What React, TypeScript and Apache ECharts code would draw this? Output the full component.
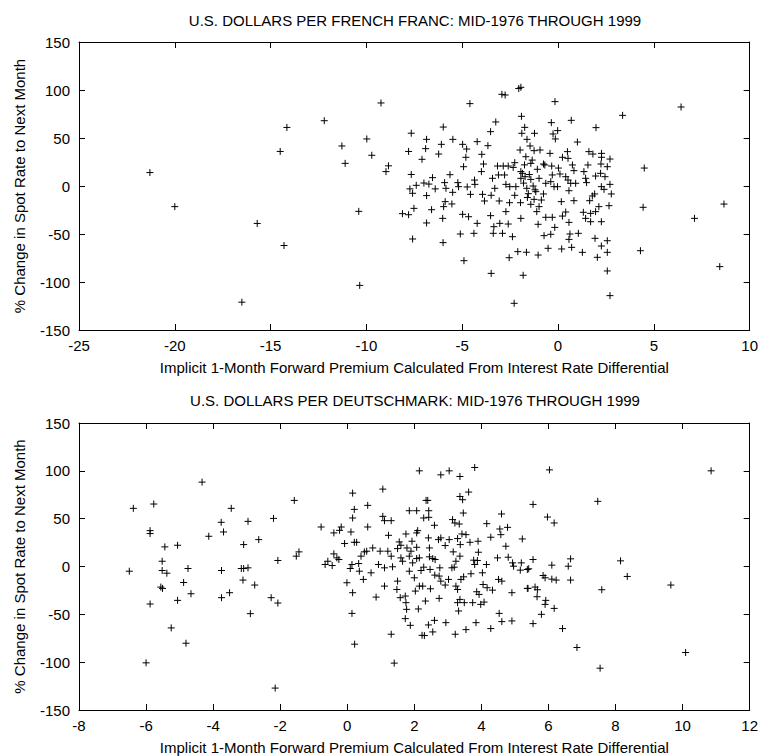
import React, { useEffect, useRef } from "react";
import * as echarts from "echarts";

const TITLE_FRANC = "U.S. DOLLARS PER FRENCH FRANC: MID-1976 THROUGH 1999";
const TITLE_MARK = "U.S. DOLLARS PER DEUTSCHMARK: MID-1976 THROUGH 1999";
const X_TITLE = "Implicit 1-Month Forward Premium Calculated From Interest Rate Differential";
const Y_TITLE = "% Change in Spot Rate to Next Month";

const Y_MIN = -150;
const Y_MAX = 150;
const Y_STEP = 50;
const FRANC_X_RANGE = [-25, 10, 5];
const MARK_X_RANGE = [-8, 12, 2];

// French franc: [forward premium, % change]
const francPoints: number[][] = [
  [-21.3, 14], [-20.0, -21.5], [-15.7, -39], [-14.3, -62], [-14.5, 36], [-14.15, 61], [-12.2, 68], [-16.5, -121],
  [-11.28, 41.7], [-11.11, 23.6], [-9.98, 49], [-9.72, 32], [-9.24, 86.5], [-8.98, 15], [-8.85, 21], [-10.4, -26.4],
  [-10.35, -103.5], [-7.8, 36], [-7.66, 55], [-7.66, 12], [-7.73, -3], [-7.59, -7.6], [-8.12, -28.8], [-7.8, -29.9],
  [-7.52, -23.3], [-7.59, -55.2], [-7.4, 0.7], [-7.1, 27.8], [-6.91, 38.9], [-6.86, 48.6], [-7.0, 3.1], [-6.86, -10],
  [-6.86, -38.5], [-6.74, 2], [-6.55, 8.7], [-6.41, -3], [-6.6, -24.7], [-6.23, 33.3], [-6.09, 43.4], [-5.99, 61.4],
  [-6.02, -33.7], [-6.0, -59], [-5.97, -21.5], [-5.89, -16.3], [-5.92, 3.5], [-5.85, -2.4], [-5.64, 11.8], [-5.5, -6.6],
  [-5.54, -18.7], [-5.49, 48.6], [-5.23, 3.5], [-5.19, -0.7], [-4.98, 43.4], [-4.77, 38.5], [-4.81, 29.9], [-4.93, 20.1],
  [-4.98, -29.5], [-4.67, -32], [-5.1, -50], [-4.91, -77.8], [-4.6, 85.8], [-4.74, -1], [-4.57, -8.7], [-4.36, 6.2],
  [-4.34, 1.7], [-4.22, 46.2], [-4.22, -38.9], [-4.39, -49.3], [-3.98, 33], [-4.0, 15], [-3.89, 22.9], [-3.94, -8.7],
  [-3.84, -15.6], [-3.66, 42], [-3.52, 56.6], [-3.42, 8], [-3.49, -9.7], [-3.52, -30.9], [-3.49, -91], [-3.35, -42.4],
  [-3.38, -49.3], [-3.25, 66.7], [-3.3, -2.4], [-3.16, 20.8], [-3.11, 11.5], [-3.07, -15.6], [-3.04, -38.9], [-2.93, 95.5],
  [-2.76, 94.8], [-2.9, -49.3], [-2.86, 20.8], [-2.79, 11.5], [-2.72, 1.7], [-2.72, -26.7], [-2.6, -39.6], [-2.6, 20.8],
  [-2.52, -0.7], [-2.53, -17.4], [-2.38, -52.8], [-2.29, -122.2], [-2.55, -74.7], [-2.34, 19.4], [-2.26, 24.3], [-2.2, -0.7],
  [-2.26, -9.7], [-2.1, -68.4], [-1.94, 102.8], [-2.05, 101.5], [-1.91, 72.6], [-1.89, 54.9], [-1.74, 61.1], [-1.98, 37.5],
  [-1.94, 15], [-1.94, 8], [-1.96, -17.4], [-1.94, -33.7], [-1.82, -93], [-1.65, -69], [-1.68, 30.5], [-1.86, 13.2],
  [-1.72, 9.7], [-1.62, 48.6], [-1.5, 12], [-1.3, 0], [-1.8, 3], [-1.55, -8], [-1.2, -4], [-1.75, 22], [-1.35, 27], [-1.6, -12],
  [-0.16, 87.9], [0.69, 68.4], [3.37, 73.6], [6.42, 82.3], [-0.35, 66], [1.98, 60.8], [-1.23, 54.9], [-0.02, 57.7],
  [-0.26, 54.2], [-0.14, 49], [1.01, 45.8], [-1.46, 41.7], [-1.25, 36.8], [-0.94, 37.5], [-0.42, 34], [0.49, 35.8],
  [0.23, 29.9], [0.52, 28.8], [1.61, 35.8], [1.82, 33.3], [2.27, 34], [2.27, 29.9], [2.71, 28.1], [-1.42, 23.6],
  [-0.69, 21.9], [-0.33, 20.8], [0.02, 18.7], [0.75, 21.9], [0.83, 16], [1.56, 21.9], [2.24, 22.9], [2.57, 20.1],
  [4.5, 18.7], [-1.08, 17.4], [-0.76, 22.9], [-0.3, 11.5], [0.1, 12.5], [0.4, 9.7], [0.92, 2.8], [1.35, 15],
  [1.44, 8], [1.96, 10.4], [2.22, 13.2], [2.45, 9.7], [-1.42, 6.9], [-0.99, 8], [-0.64, 2.8], [-0.38, 4.5],
  [-0.03, -0.7], [-0.21, -0.7], [0.52, 6.2], [0.66, 2.8], [1.49, 3.5], [2.26, -0.7], [2.71, 1.7], [-1.63, -2.4],
  [-1.16, -5.9], [-0.76, -8.3], [0.57, -4.9], [1.91, -8.3], [2.78, -8.3], [2.4, -3.5], [-1.25, -13.9], [-0.87, -14.6],
  [0.17, -16.3], [0.83, -15.3], [1.65, -15.3], [1.79, -10.4], [-1.42, -19.1], [-0.99, -21.5], [2.13, -21.5], [2.66, -20.5],
  [4.44, -22.2], [8.66, -18.8], [7.12, -33.7], [-1.11, -26.7], [0.4, -27.1], [1.32, -27.4], [1.7, -28.5], [1.96, -26.7],
  [-0.64, -32.6], [-0.3, -32.6], [0.23, -31.3], [1.44, -33.7], [0.57, -37.9], [1.7, -37.2], [2.26, -37.2], [-1.04, -39.9],
  [-0.17, -43.1], [-0.73, -51.7], [-0.38, -50.3], [0.62, -50], [1.06, -49.3], [0.57, -55.6], [1.93, -54.5], [2.57, -57],
  [2.26, -62.5], [-0.52, -64.9], [0.19, -65.6], [0.71, -63.9], [1.27, -69.1], [2.05, -74.3], [2.57, -69.1], [-1.04, -71.9],
  [4.3, -67.4], [2.57, -88.5], [2.71, -114.2], [8.44, -84],
];

// Deutschmark: [forward premium, % change]
const markPoints: number[][] = [
  [-6.5, -4.9], [-6.38, 60.8], [-5.77, 65.3], [-5.88, 37.5], [-5.88, 34.4], [-5.44, 20.5], [-5.52, 5.5], [-5.52, -4.2],
  [-5.38, -7], [-5.56, -21.5], [-5.51, -22.9], [-5.88, -39.2], [-5.06, 22.2], [-5.06, -35.4], [-5.25, -64.2], [-6.0, -100.7],
  [-4.88, -16.7], [-4.75, -2.1], [-4.66, -28.5], [-4.81, -80.2], [-4.33, 88.2], [-4.13, 31.6], [-3.76, 46.2], [-3.69, 36.1],
  [-3.75, -4.2], [-3.75, -32.6], [-3.51, -27.4], [-3.46, 60.8], [-3.09, 22.9], [-2.96, 47.2], [-2.64, 28.1], [-3.16, -2.1],
  [-3.09, -2.1], [-2.96, -1.4], [-3.11, -14.2], [-2.76, -19.4], [-2.89, -49.3], [-2.2, 50.3], [-2.07, 6.3], [-2.27, -32.6],
  [-2.07, -38.2], [-2.15, -127.1], [-1.58, 69.1], [-1.52, 10.8], [-1.44, 15.3], [-0.78, 41.3], [-0.66, 2.1], [-0.58, 5.5],
  [-0.45, 1], [-0.4, 35.1], [-0.4, 13.2],
  [2.15, 100], [2.79, 95.8], [3.04, 100], [3.36, 94.1], [3.8, 103.5], [0.16, 76.7], [1.06, 80.9], [0.61, 63.9],
  [0.21, 59.7], [0.16, 50.7], [1.06, 52.4], [1.11, 47.9], [1.31, 47.9], [0.61, 41.3], [-0.18, 41.3], [-0.23, 37.8],
  [0.11, 36.1], [-0.08, 24], [0.21, 25.3], [0.28, 25.3], [-0.31, 9], [-0.25, 7.3], [0.14, 2.1], [0.34, 3.1],
  [0.09, -2.1], [0.36, -4.9], [-0.01, -17], [0.16, -27.4], [0.14, -49], [0.22, -81.2], [0.48, -13.5], [0.41, 10.8],
  [0.51, 15.3], [0.58, 16], [0.76, 19.4], [0.71, -6.6], [0.93, 2.1], [0.98, 16], [0.86, -32], [1.11, -20.5],
  [1.11, -1.4], [1.23, 32.6], [1.21, 16], [1.31, 10.8], [1.35, -0.3], [1.31, -70.8], [1.4, -101], [1.5, 18.7],
  [1.55, 25.7], [1.6, 22.2], [1.6, 9], [1.65, 5.5], [1.75, 34], [1.78, 19.4], [1.5, -15.3], [1.48, -24],
  [1.58, -32.6], [1.75, -37.8], [1.73, -30.9], [1.77, -44.8], [1.73, -54.5], [1.88, -61.5], [1.85, -4.9], [1.85, 58.3],
  [1.85, 10.8], [1.93, 26.4], [1.9, 16], [1.95, 3.8], [2.0, -11.8], [2.03, -25.7], [2.07, 58.3], [2.07, 35.1],
  [2.07, 20.1], [2.07, 8.3], [2.1, 37.5], [2.12, -44.4], [2.15, -20.5], [2.15, 9], [2.2, -4.2], [2.23, -71.9],
  [2.3, -72.2], [2.25, -20.5], [2.28, 50.7], [2.28, -0.7], [2.33, -36.1], [2.35, 69.1], [2.4, 69.1], [2.43, 58.3],
  [2.43, 51.4], [2.42, 29.9], [2.45, 19.4], [2.45, 10.1], [2.47, -3.1], [2.42, -61.1], [2.48, -23.3], [2.55, 8.3],
  [2.55, -68.4], [2.6, 43.1], [2.6, -56.3], [2.61, -9], [2.62, 7.3], [2.72, 28.1], [2.74, -10], [2.76, -1.4],
  [2.74, -33.3], [2.79, -15.3], [2.79, 29.9], [2.92, 21.9], [2.92, -19.4], [2.94, -58.7], [3.04, 28.1], [3.02, -13.5],
  [3.12, -1.4], [3.16, 15.3], [3.19, -0.7], [3.14, 49], [3.21, 45.5], [3.22, -70.8], [3.24, -20.5], [3.24, 5.5],
  [3.29, 29.2], [3.29, -24], [3.34, 44.4], [3.36, 73.2], [3.36, -34.4], [3.32, -46.5], [3.29, -37.8], [3.37, 22.9],
  [3.36, 10.8], [3.39, -13.5], [3.44, 69.8], [3.46, 55.9], [3.42, 34], [3.47, -10.8], [3.49, -37.8], [3.54, 33.3],
  [3.54, -66], [3.62, 77.8], [3.66, 25.3], [3.69, -7.6], [3.74, -37.8], [3.77, 6.6], [3.8, 2.1], [3.84, -58.7],
  [3.86, -26.4], [3.88, 6.3], [3.9, 26.4], [3.91, 14.9], [3.93, -29.2], [3.98, -39.6], [4.03, -6.6], [4.05, -18.8],
  [4.08, -37.2], [4.15, 2.1], [4.16, 44.8], [4.17, -22.2], [4.28, -64.9], [4.28, 30.6], [4.33, -24.7], [4.48, 9],
  [4.51, -13.5], [4.53, -49], [4.55, 39.2], [4.58, 33.3], [4.6, 54.9], [4.61, -15.3], [4.61, -57.6], [4.73, 21.2],
  [4.78, 40.9], [4.8, 9.7], [4.91, -56.9], [4.91, -27.4], [4.93, 3.8], [4.96, 0.3], [5.16, -3.8], [5.19, 3.8],
  [5.22, 28.8], [5.37, -22.9], [5.37, -3.1],
  [6.03, 101], [10.85, 100], [5.54, 64.9], [7.47, 68.1], [5.97, 51.7], [6.17, 45.5], [5.54, 7.3], [6.66, 8],
  [5.41, -2.4], [6.1, 1.4], [6.59, 0.3], [8.15, 5.9], [5.84, -9.4], [5.9, -11.8], [6.1, -13.2], [6.23, -14.2],
  [6.66, -14.2], [8.35, -10.4], [9.65, -19.4], [5.39, -22.9], [5.6, -21.5], [5.67, -24.3], [5.66, -31.6], [7.59, -24.3],
  [5.92, -35.4], [5.9, -39.6], [6.17, -43.8], [5.79, -50], [5.54, -59.7], [6.42, -64.9], [6.85, -84.7], [10.09, -89.9],
  [7.54, -106.3],
];

const FONT = "'Liberation Sans', Arial, Helvetica, sans-serif";
const BLACK = "#000";
const PLUS = "path://M5 0V10M0 5H10";

const GRIDS = [
  { left: 79, top: 42, width: 672, height: 288 },
  { left: 79, top: 423, width: 672, height: 288 },
];

function buildAxes(gridIndex: number, range: number[]) {
  const [min, max, interval] = range;
  const line = { show: true, onZero: false, lineStyle: { color: BLACK, width: 1 } };
  const tick = { show: true, inside: true, length: 6, lineStyle: { color: BLACK, width: 1 } };
  const label = { color: BLACK, fontSize: 15, fontFamily: FONT };
  const nameStyle = { color: BLACK, fontSize: 15, fontFamily: FONT };
  const xAxes = [
    {
      gridIndex, type: "value", min, max, interval, position: "bottom",
      axisLine: line, axisTick: tick, splitLine: { show: false },
      axisLabel: { ...label, margin: 8 },
      name: X_TITLE, nameLocation: "middle", nameGap: 30, nameTextStyle: nameStyle,
    },
    {
      gridIndex, type: "value", min, max, interval, position: "top",
      axisLine: line, axisTick: tick, splitLine: { show: false }, axisLabel: { show: false },
    },
  ];
  const yAxes = [
    {
      gridIndex, type: "value", min: Y_MIN, max: Y_MAX, interval: Y_STEP, position: "left",
      axisLine: line, axisTick: tick, splitLine: { show: false },
      axisLabel: { ...label, margin: 9 },
      name: Y_TITLE, nameLocation: "middle", nameGap: 52, nameTextStyle: nameStyle,
    },
    {
      gridIndex, type: "value", min: Y_MIN, max: Y_MAX, interval: Y_STEP, position: "right",
      axisLine: line, axisTick: tick, splitLine: { show: false }, axisLabel: { show: false },
    },
  ];
  return { xAxes, yAxes };
}

function scatterSeries(name: string, data: number[][], axisIndex: number) {
  return {
    name, type: "scatter", xAxisIndex: axisIndex, yAxisIndex: axisIndex, data,
    symbol: PLUS, symbolSize: 7,
    itemStyle: { color: BLACK, borderColor: BLACK, borderWidth: 1, opacity: 1 },
    emphasis: { disabled: true },
  };
}

export default function App() {
  const ref = useRef<HTMLDivElement>(null);
  useEffect(() => {
    if (!ref.current) return;
    const chart = echarts.init(ref.current, undefined, { renderer: "svg" });
    const a = buildAxes(0, FRANC_X_RANGE);
    const b = buildAxes(1, MARK_X_RANGE);
    chart.setOption({
      animation: false,
      backgroundColor: "#fff",
      grid: GRIDS,
      xAxis: [...a.xAxes, ...b.xAxes],
      yAxis: [...a.yAxes, ...b.yAxes],
      graphic: [
        { type: "text", x: 415, y: 20, style: { text: TITLE_FRANC, fill: BLACK, font: `15px ${FONT}`, textAlign: "center", textVerticalAlign: "middle" } },
        { type: "text", x: 415, y: 400, style: { text: TITLE_MARK, fill: BLACK, font: `15px ${FONT}`, textAlign: "center", textVerticalAlign: "middle" } },
      ],
      series: [scatterSeries("French franc", francPoints, 0), scatterSeries("Deutschmark", markPoints, 2)],
    });
    return () => chart.dispose();
  }, []);
  return <div ref={ref} style={{ position: "fixed", left: 0, top: 0, width: 761, height: 756 }} />;
}
